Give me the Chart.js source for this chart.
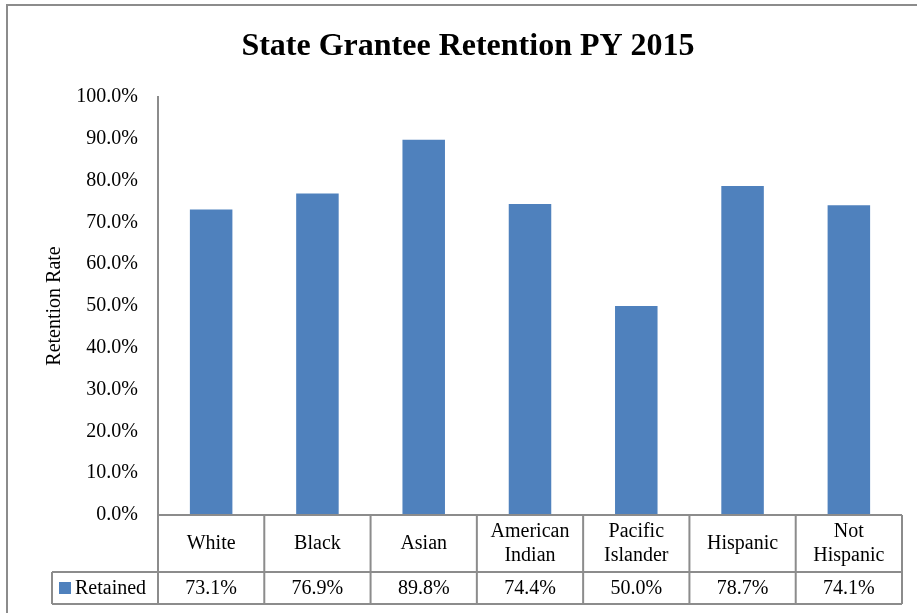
<!DOCTYPE html>
<html>
<head>
<meta charset="utf-8">
<script src="https://cdn.jsdelivr.net/npm/chart.js@4.4.1/dist/chart.umd.min.js"></script>
<style>
  html, body { margin: 0; padding: 0; background: #fff; }
  #wrap { width: 917px; height: 613px; position: relative; overflow: hidden; }
</style>
</head>
<body>
<div id="wrap"><canvas id="retentionChart" width="917" height="613"></canvas></div>
<script>
// chart data
var categories = [['White'], ['Black'], ['Asian'], ['American', 'Indian'], ['Pacific', 'Islander'], ['Hispanic'], ['Not', 'Hispanic']];
var retained = [73.1, 76.9, 89.8, 74.4, 50.0, 78.7, 74.1];
var seriesName = 'Retained';
var chartTitle = 'State Grantee Retention PY 2015';
var axisTitle = 'Retention Rate';

var serif = '"Liberation Serif", "Times New Roman", serif';
var barColor = '#4F81BD';
var lineColor = '#8c8c8c';

// draws the frame, the title and the data table under the bars
var tablePlugin = {
  id: 'dataTable',
  afterDraw: function (chart) {
    var c = chart.ctx;
    var x = chart.scales.x;
    var area = chart.chartArea;
    var cellW = x.width / categories.length;
    var rowTop = area.bottom;
    var rowMid = rowTop + 57;
    var rowBot = rowMid + 32;
    var legendLeft = 52;

    c.save();
    // outer frame
    c.strokeStyle = lineColor;
    c.lineWidth = 2;
    c.strokeRect(7, 5, 960, 700);

    // title
    c.fillStyle = '#000';
    c.font = 'bold 32px ' + serif;
    c.textAlign = 'center';
    c.textBaseline = 'middle';
    c.fillText(chartTitle, 468, 47);

    // table grid
    c.beginPath();
    c.moveTo(area.left, rowTop); c.lineTo(area.right, rowTop);
    c.moveTo(legendLeft, rowMid); c.lineTo(area.right, rowMid);
    c.moveTo(legendLeft, rowBot); c.lineTo(area.right, rowBot);
    c.moveTo(legendLeft, rowMid); c.lineTo(legendLeft, rowBot);
    for (var i = 0; i <= categories.length; i++) {
      var px = area.left + i * cellW;
      c.moveTo(px, rowTop); c.lineTo(px, rowBot);
    }
    c.stroke();

    // header labels and values
    c.font = '20px ' + serif;
    for (var j = 0; j < categories.length; j++) {
      var cx = x.getPixelForValue(j);
      var lines = categories[j];
      var hMid = (rowTop + rowMid) / 2;
      for (var k = 0; k < lines.length; k++) {
        var ly = hMid + (k - (lines.length - 1) / 2) * 24;
        c.fillText(lines[k], cx, ly);
      }
      c.fillText(retained[j].toFixed(1) + '%', cx, (rowMid + rowBot) / 2 + 1);
    }

    // legend cell
    c.fillStyle = barColor;
    c.fillRect(59, rowMid + 10, 12, 12);
    c.fillStyle = '#000';
    c.textAlign = 'left';
    c.fillText(seriesName, 75, (rowMid + rowBot) / 2 + 1);
    c.restore();
  }
};

var ctx = document.getElementById('retentionChart').getContext('2d');
var chart = new Chart(ctx, {
  type: 'bar',
  data: {
    labels: categories,
    datasets: [{
      label: seriesName,
      data: retained,
      backgroundColor: barColor,
      borderWidth: 0,
      barPercentage: 0.4,
      categoryPercentage: 1
    }]
  },
  options: {
    responsive: false,
    animation: false,
    layout: { padding: { top: 97, bottom: 98, right: 15, left: 0 } },
    plugins: {
      legend: { display: false },
      tooltip: { enabled: false }
    },
    scales: {
      x: { display: false },
      y: {
        min: 0,
        max: 100,
        afterFit: function (scale) { scale.width = 158; },
        grid: { display: false, drawTicks: false },
        border: { display: true, color: lineColor, width: 2 },
        ticks: {
          stepSize: 10,
          padding: 20,
          color: '#000',
          font: { family: serif, size: 20 },
          callback: function (v) { return v.toFixed(1) + '%'; }
        },
        title: {
          display: true,
          text: axisTitle,
          color: '#000',
          font: { family: serif, size: 20 },
          padding: { top: 43, bottom: 0 }
        }
      }
    }
  },
  plugins: [tablePlugin]
});
</script>
</body>
</html>
